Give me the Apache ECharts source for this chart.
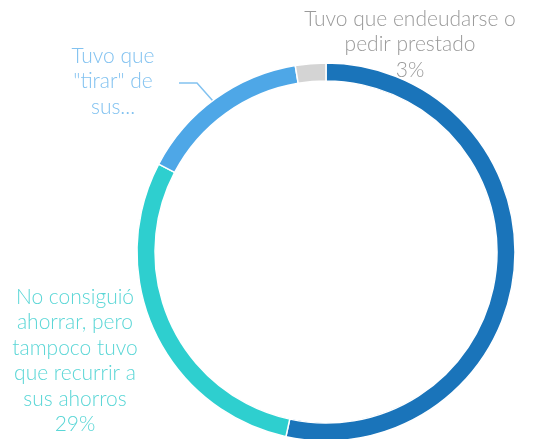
<!DOCTYPE html>
<html>
<head>
<meta charset="utf-8">
<script src="https://cdn.jsdelivr.net/npm/echarts@6/dist/echarts.min.js"></script>
<style>
html,body{margin:0;padding:0;background:#fff;}
#chart{width:542px;height:439px;}
</style>
</head>
<body>
<div id="chart"></div>
<script>
var categories = [
  'Consiguió ahorrar',
  'No consiguió\nahorrar, pero\ntampoco tuvo\nque recurrir a\nsus ahorros',
  'Tuvo que\n"tirar" de\nsus...',
  'Tuvo que endeudarse o\npedir prestado'
];
var values = [53.4, 29.3, 14.7, 2.6];
var showPercent = [false, true, false, true];
var showLabel = [false, true, true, true];

var sliceColors = ['#1a74ba', '#2ecfcf', '#4ea7e7', '#d4d4d4'];
var labelColors = ['#1a74ba', '#5ad6d6', '#82c2f0', '#9a9a9a'];
var labelPos = [null, {x: 75, y: 284}, {x: 113, y: 43}, {x: 410, y: 6}];

var data = categories.map(function (c, i) {
  return {
    name: c,
    value: values[i],
    itemStyle: {color: sliceColors[i]},
    label: {show: showLabel[i], color: labelColors[i]},
    labelLine: {show: i === 2, lineStyle: {color: labelColors[i], width: 1.5}}
  };
});

var chart = echarts.init(document.getElementById('chart'));
chart.setOption({
  animation: false,
  series: [{
    type: 'pie',
    center: [326, 252],
    radius: [171, 189],
    startAngle: 90,
    clockwise: true,
    itemStyle: {borderColor: '#fff', borderWidth: 1.5},
    label: {
      position: 'outside',
      fontFamily: 'Lato',
      fontWeight: 300,
      fontSize: 21,
      lineHeight: 25.5,
      align: 'center',
      width: 300,
      overflow: 'none',
      formatter: function (p) {
        return showPercent[p.dataIndex] ? p.name + '\n' + Math.round(p.percent) + '%' : p.name;
      }
    },
    labelLine: {length: 15, length2: 15, smooth: false},
    labelLayout: function (p) {
      var pos = labelPos[p.dataIndex];
      if (!pos) return {};
      var out = {x: pos.x, y: pos.y, align: 'center', verticalAlign: 'top'};
      if (p.dataIndex === 2 && p.labelLinePoints) {
        var s = p.labelLinePoints[0];
        out.labelLinePoints = [[s[0], s[1] + 5], [197, 83], [179, 83]];
      }
      return out;
    },
    data: data
  }]
});
</script>
</body>
</html>
